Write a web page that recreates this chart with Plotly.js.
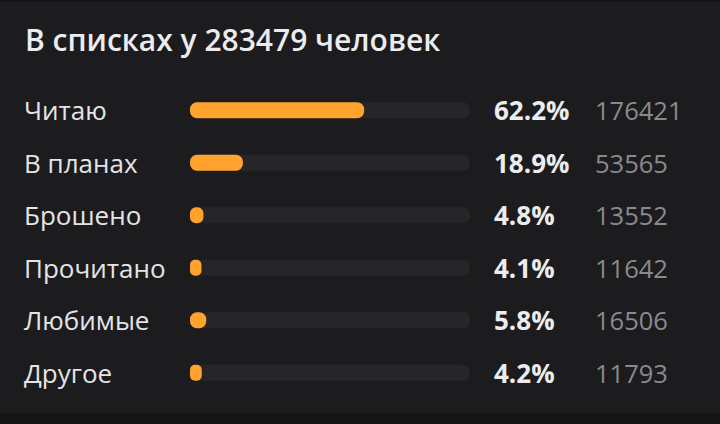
<!DOCTYPE html>
<html>
<head>
<meta charset="utf-8">
<script src="https://cdn.plot.ly/plotly-3.0.1.min.js"></script>
<style>
html,body{margin:0;padding:0;background:#1c1c1e;}
#chart{width:720px;height:424px;}
</style>
</head>
<body>
<div id="chart"></div>
<script>
const titleText = "В списках у 283479 человек";
const categories = ["Читаю", "В планах", "Брошено", "Прочитано", "Любимые", "Другое"];
const percents = [62.2, 18.9, 4.8, 4.1, 5.8, 4.2];
const counts = [176421, 53565, 13552, 11642, 16506, 11793];
const trackMax = 100;

const L = 190, R = 470, T = 84, B = 399.3;
const W = R - L, H = B - T;
const px = p => (p - L) / W;

// bars with an explicit base get both ends rounded by cornerradius
function pill(values, color) {
  return {type: 'bar', orientation: 'h', y: categories, x: values,
    base: values.map(() => 0), width: 0.304,
    marker: {color: color, cornerradius: 8, line: {width: 0}}, hoverinfo: 'skip'};
}

const traces = [pill(categories.map(() => trackMax), '#262628'), pill(percents, '#ffa22e')];

const annotations = [];
categories.forEach((c, i) => {
  annotations.push({xref: 'paper', yref: 'y', x: px(22), y: c, xanchor: 'left', yanchor: 'middle',
    text: c, showarrow: false, font: {family: 'Open Sans', size: 26, color: '#e4e4e6'}});
  annotations.push({xref: 'paper', yref: 'y', x: px(492), y: c, xanchor: 'left', yanchor: 'middle',
    text: '<b>' + percents[i].toFixed(1) + '%</b>', showarrow: false,
    font: {family: 'Open Sans', size: 26, color: '#ececee'}});
  annotations.push({xref: 'paper', yref: 'y', x: px(593), y: c, xanchor: 'left', yanchor: 'middle',
    text: String(counts[i]), showarrow: false, font: {family: 'Open Sans', size: 25.5, color: '#8a8a8e'}});
});

const layout = {
  width: 720, height: 424,
  paper_bgcolor: '#1c1c1e', plot_bgcolor: '#1c1c1e',
  margin: {l: L, r: 720 - R, t: T, b: 424 - B, pad: 0},
  barmode: 'overlay',
  showlegend: false,
  title: {text: titleText, x: 25 / 720, xanchor: 'left', xref: 'container',
    y: 1 - 40 / 424, yref: 'container', yanchor: 'middle',
    font: {family: 'Open Sans', size: 30, weight: 600, color: '#ececee'}},
  xaxis: {range: [0, trackMax], visible: false, fixedrange: true},
  yaxis: {type: 'category', categoryorder: 'array', categoryarray: categories,
    range: [5.5, -0.5], visible: false, fixedrange: true},
  annotations: annotations,
  shapes: [
    {type: 'rect', xref: 'paper', yref: 'paper', x0: -1, x1: 2, y0: (B - 424) / H, y1: (B - 413) / H,
      fillcolor: '#141416', line: {width: 0}, layer: 'below'},
    {type: 'rect', xref: 'paper', yref: 'paper', x0: -1, x1: 2, y0: (B - 0) / H, y1: (B - 2) / H,
      fillcolor: '#141416', line: {width: 0}, layer: 'below'}
  ]
};

Plotly.newPlot('chart', traces, layout, {displayModeBar: false, staticPlot: true});
</script>
</body>
</html>
